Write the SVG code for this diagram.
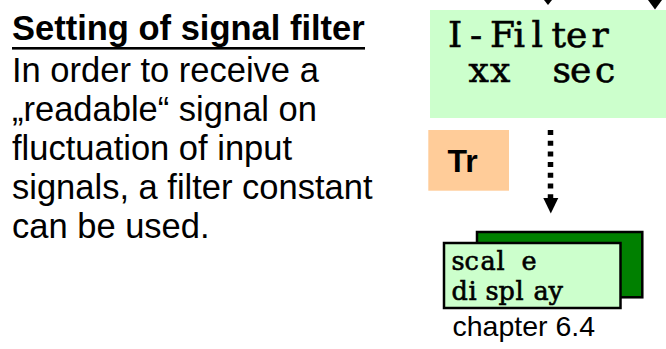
<svg xmlns="http://www.w3.org/2000/svg" width="666" height="349" viewBox="0 0 666 349">
  <style>
    .sans { font-family: "Liberation Sans", Arial, sans-serif; fill: #000; }
    .serif { font-family: "DejaVu Serif", "Liberation Serif", serif; fill: #000; stroke: #000; stroke-width: 0.6; }
    .body { font-size: 34.5px; }
    .lcd { fill: #CCFFCC; }
    .edge { stroke: #000; stroke-width: 2.5; }
    .head { fill: #000; }
  </style>

  <!-- explanatory text on the left -->
  <g id="description">
    <text class="sans body" x="12" y="40" font-weight="bold">Setting of signal filter</text>
    <rect x="12" y="47" width="353" height="2.6" fill="#000"/>
    <text class="sans body" x="12" y="82">In order to receive a</text>
    <text class="sans body" x="12" y="121">„readable“ signal on</text>
    <text class="sans body" x="12" y="160">fluctuation of input</text>
    <text class="sans body" x="12" y="199">signals, a filter constant</text>
    <text class="sans body" x="12" y="237.5">can be used.</text>
  </g>

  <!-- display: filter time -->
  <g id="filter-display">
    <rect class="lcd" x="430" y="10" width="236" height="108"/>
    <text class="serif" font-size="36" y="47" x="448 470 490 513.5 531.5 551.5 566 591.5">I-Filter</text>
    <text class="serif" font-size="36" y="82" x="468.5 490 552.5 570 595">xxsec</text>
  </g>

  <!-- key -->
  <g id="key-tr">
    <rect x="428.3" y="130" width="80.7" height="60.7" fill="#FFCC99"/>
    <text class="sans" font-size="32" font-weight="bold" x="447.5" y="171.5">Tr</text>
  </g>

  <!-- display: scale display, stacked menu -->
  <g id="scale-display">
    <rect x="477" y="232" width="165.3" height="65.3" fill="#008000" class="edge"/>
    <rect x="444" y="243" width="176.5" height="65" class="lcd edge"/>
    <text class="serif" font-size="25.5" y="269.5" x="451.5 464.5 480.5 496.5 521.5">scale</text>
    <text class="serif" font-size="25.5" y="299.5" x="451.5 468.5 485.5 498.5 515.5 533.5 548.5">display</text>
  </g>

  <g id="chapter-ref">
    <text class="sans" font-size="28.5" x="452.5" y="336">chapter 6.4</text>
  </g>

  <!-- connectors -->
  <g id="connectors">
    <polygon class="head" points="544,0 552,0 548,5"/>
    <polygon class="head" points="648,0 662,0 655,9.5"/>
    <line x1="550.5" y1="130" x2="550.5" y2="198" stroke="#000" stroke-width="5.5" stroke-dasharray="5 5.7"/>
    <polygon class="head" points="543.3,198 558.3,198 550.8,213.5"/>
  </g>
</svg>
